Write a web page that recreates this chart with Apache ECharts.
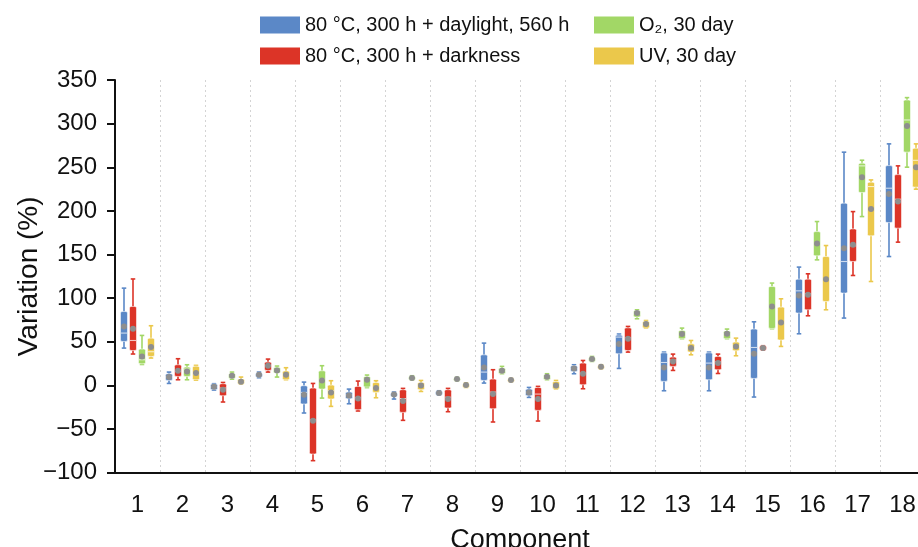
<!DOCTYPE html>
<html><head><meta charset="utf-8">
<script src="https://cdn.jsdelivr.net/npm/echarts@6/dist/echarts.min.js"></script>
<style>html,body{margin:0;padding:0;background:#fff}#c{width:918px;height:547px}</style>
</head><body><div id="c"></div>
<script>
// Components on the x axis
const categories = ['1','2','3','4','5','6','7','8','9','10','11','12','13','14','15','16','17','18'];
const seriesNames = ['80 °C, 300 h + daylight, 560 h', '80 °C, 300 h + darkness', 'O₂, 30 day', 'UV, 30 day'];
const colors = ['#5b88c7', '#dc3427', '#a2d766', '#ebc84b'];

// each row: [whiskerLow, Q1, median, Q3, whiskerHigh, mean]
const daylight = [
  [42.8, 50.4, 60, 84.7, 111.5, 67.6],
  [2.3, 5.7, 10, 13.4, 15.3, 9.6],
  [-5.4, -4.9, -1.5, 1.6, 2, -1.5],
  [8.8, 9.6, 12.3, 14.2, 15.3, 12.3],
  [-31.6, -21.3, -8, -0.3, 3.8, -10.6],
  [-21, -15.2, -11, -7.6, -4.2, -11.5],
  [-15.6, -12.6, -10, -8.4, -7.6, -10.3],
  [-11, -11, -8.5, -6.5, -6.1, -8.8],
  [2.7, 5.7, 15.3, 35.1, 48.5, 20.6],
  [-13.7, -11.8, -8, -4.2, -2.3, -8],
  [13.4, 16, 19.5, 22.6, 23.7, 19.5],
  [19.5, 36.3, 55.4, 57.7, 58.9, 47.4],
  [-6.1, 4.6, 26.3, 37.4, 38.2, 20.6],
  [-6.1, 6.5, 25.6, 37.4, 38.2, 20.6],
  [-13.3, 8, 43.5, 64.6, 72.9, 36.3],
  [59.2, 82.9, 108.4, 121.8, 135.6, 103],
  [77.2, 105.8, 142, 208.9, 267.3, 157.3],
  [147.7, 186.6, 226, 251.9, 276.8, 219.5]
];
const darkness = [
  [36, 40, 51.5, 90.5, 122, 65],
  [6.5, 10.3, 16, 23.7, 30.6, 16.8],
  [-19, -11.8, -3, 2, 3.4, -4.9],
  [15.3, 17.2, 22.6, 26.8, 30.2, 22.6],
  [-86.2, -78.6, -39.6, -3, 2.3, -40.4],
  [-29.3, -27.8, -14, -1.1, 5, -14.9],
  [-40, -30.9, -15, -4.9, -3.4, -17.9],
  [-30.1, -25.9, -13.5, -4.9, -3.4, -15.6],
  [-41.9, -26.7, -7.6, 7.3, 18, -9.9],
  [-40.8, -28.6, -9.9, -2.3, -1.1, -15.6],
  [-3.8, 0.8, 14, 25.6, 28.6, 13.4],
  [38.2, 40, 54.5, 66, 67.6, 53.5],
  [17.2, 21.8, 29, 32.5, 35.9, 27.5],
  [13.7, 18, 27, 33.2, 35.9, 25.6],
  [40.5, 40.5, 42.8, 45.5, 45.5, 42.8],
  [79.8, 86.7, 105, 121.8, 127.9, 103.9],
  [126, 142, 160, 179.4, 199.2, 161.1],
  [164.2, 180.2, 213.4, 241.6, 251.6, 210.7]
];
const oxygen = [
  [24, 24.8, 29.4, 41.7, 57.3, 33.2],
  [6.5, 10.3, 18.8, 21, 23.7, 16],
  [7.2, 8, 11.1, 13.8, 15.3, 11.1],
  [9.6, 14.2, 17.2, 20.7, 22.2, 17.2],
  [-14.5, -4.2, 7, 16.8, 22.6, 5.7],
  [-2.5, -1.8, 7, 10.3, 11.9, 6.5],
  [6.5, 6.5, 8.4, 10.5, 11.1, 8.4],
  [5.4, 5.4, 7.3, 8.8, 9.2, 7.3],
  [13.4, 13.4, 16.8, 19.9, 21.8, 16.8],
  [6.5, 6.5, 10, 12.5, 13.4, 10],
  [27.5, 27.5, 30.2, 32.4, 33.2, 30.2],
  [76.4, 78.3, 82.9, 85.9, 86.7, 82.9],
  [53.5, 53.5, 58.9, 63, 65.7, 58.9],
  [53.5, 53.5, 59.2, 62.5, 64.6, 59.2],
  [65, 65.3, 91, 113.4, 117.3, 90.5],
  [143.9, 148.5, 163, 176.3, 187.8, 162.6],
  [193.5, 221, 251.6, 254.7, 258.1, 238.6],
  [250.1, 267.3, 304.2, 327.1, 329.8, 297.4]
];
const uv = [
  [31.4, 33.2, 38.6, 54.2, 68.4, 44],
  [6, 6.5, 13, 22, 23, 14.2],
  [1.6, 1.6, 4.2, 7.5, 9.6, 4.2],
  [6.5, 6.5, 12.3, 16.6, 20.3, 12.3],
  [-24, -15.6, -6, 0.4, 5.4, -8],
  [-14.1, -8, -2, 3.4, 5.4, -3],
  [-6.9, -4.9, 0, 3.4, 5.7, 0],
  [-2.3, -2.3, 0.4, 2.2, 2.7, 0.4],
  [4.2, 4.2, 6.1, 7.5, 8, 6.1],
  [-4.2, -4.2, 0, 4.5, 5.7, 0],
  [19.1, 19.1, 21.4, 23, 23.7, 21.4],
  [65.7, 65.7, 70.3, 73.5, 74.4, 70.3],
  [35.1, 38.2, 42.8, 47.7, 51.5, 42.8],
  [34, 39.7, 44.7, 49.7, 54.2, 44.7],
  [44.7, 52, 72.1, 89.8, 99.3, 72],
  [86.7, 96.2, 121.8, 147.7, 160.3, 121.8],
  [119.1, 171.4, 227.9, 232.9, 235.5, 202.3],
  [224.9, 227.2, 258, 271.8, 276.8, 250.1]
];
const yMin = -100, yMax = 350, yStep = 50;

const FONT = '"Liberation Sans", Arial, Helvetica, sans-serif';
const allStats = [daylight, darkness, oxygen, uv];

function makeRender(idx) {
  return function (params, api) {
    const c = api.value(0);
    const band = api.size([1, 0])[0];
    const off = (idx - 1.5) * band * 0.2;
    const bw = band * 0.155;
    const cap = band * 0.1;
    const py = v => api.coord([c, v])[1];
    const cx = api.coord([c, 0])[0] + off;
    const yLow = py(api.value(1)), yQ1 = py(api.value(2)), yMed = py(api.value(3)),
          yQ3 = py(api.value(4)), yHigh = py(api.value(5)), yMean = py(api.value(6));
    const col = colors[idx];
    const h = Math.max(yQ1 - yQ3, 3);
    const top = (yQ1 + yQ3) / 2 - h / 2;
    return {
      type: 'group',
      children: [
        { type: 'line', shape: { x1: cx, y1: yHigh, x2: cx, y2: yLow }, style: { stroke: col, lineWidth: 1.6 } },
        { type: 'line', shape: { x1: cx - cap / 2, y1: yHigh, x2: cx + cap / 2, y2: yHigh }, style: { stroke: col, lineWidth: 1.6 } },
        { type: 'line', shape: { x1: cx - cap / 2, y1: yLow, x2: cx + cap / 2, y2: yLow }, style: { stroke: col, lineWidth: 1.6 } },
        { type: 'rect', shape: { x: cx - bw / 2, y: top, width: bw, height: h, r: 1.5 }, style: { fill: col, stroke: 'rgba(255,255,255,0.55)', lineWidth: 1 } },
        { type: 'line', shape: { x1: cx - bw / 2 + 0.5, y1: yMed, x2: cx + bw / 2 - 0.5, y2: yMed }, style: { stroke: 'rgba(255,255,255,0.7)', lineWidth: 1.1 } },
        { type: 'circle', shape: { cx: cx, cy: yMean, r: 3 }, style: { fill: '#8e8e8e' } }
      ]
    };
  };
}

const series = allStats.map((stats, i) => ({
  name: seriesNames[i],
  type: 'custom',
  itemStyle: { color: colors[i] },
  renderItem: makeRender(i),
  encode: { x: 0, y: [1, 2, 3, 4, 5, 6] },
  data: stats.map((r, k) => [k].concat(r)),
  clip: false,
  z: 3
}));

const chart = echarts.init(document.getElementById('c'), null, { renderer: 'canvas' });
chart.setOption({
  animation: false,
  backgroundColor: '#fff',
  textStyle: { fontFamily: FONT, color: '#111' },
  legend: [
    { left: 260, top: 15, padding: 0, orient: 'vertical', icon: 'rect', itemWidth: 40, itemHeight: 17, itemGap: 11,
      data: [seriesNames[0], seriesNames[1]], textStyle: { fontSize: 20, color: '#111', fontFamily: FONT }, selectedMode: false },
    { left: 594, top: 15, padding: 0, orient: 'vertical', icon: 'rect', itemWidth: 40, itemHeight: 17, itemGap: 11,
      data: [seriesNames[2], seriesNames[3]], textStyle: { fontSize: 20, color: '#111', fontFamily: FONT }, selectedMode: false }
  ],
  grid: { left: 115, top: 80, width: 810, height: 392.7, containLabel: false, outerBoundsMode: 'none' },
  xAxis: {
    type: 'category',
    data: categories,
    boundaryGap: true,
    name: 'Component',
    nameLocation: 'middle',
    nameGap: 54,
    nameTextStyle: { fontSize: 27, color: '#111', fontFamily: FONT },
    axisLine: { onZero: false, lineStyle: { color: '#111', width: 2 } },
    axisTick: { alignWithLabel: true, length: 8, interval: 0, lineStyle: { color: '#111', width: 2 } },
    axisLabel: { interval: 0, fontSize: 24, color: '#111', margin: 21, fontFamily: FONT },
    splitLine: { show: true, interval: 0, lineStyle: { color: '#d4d4d4', width: 1, type: [2, 3] } }
  },
  yAxis: {
    type: 'value',
    min: yMin, max: yMax, interval: yStep,
    name: 'Variation (%)',
    nameLocation: 'middle',
    nameGap: 72,
    nameMoveOverlap: false,
    nameTextStyle: { fontSize: 28, color: '#111', fontFamily: FONT },
    axisLine: { show: true, onZero: false, lineStyle: { color: '#111', width: 2 } },
    axisTick: { show: true, length: 8, lineStyle: { color: '#111', width: 2 } },
    axisLabel: { fontSize: 24, color: '#111', margin: 18, fontFamily: FONT, formatter: v => (v < 0 ? '\u2212' + Math.abs(v) : String(v)) },
    splitLine: { show: false }
  },
  series: series
});
</script>
</body></html>
